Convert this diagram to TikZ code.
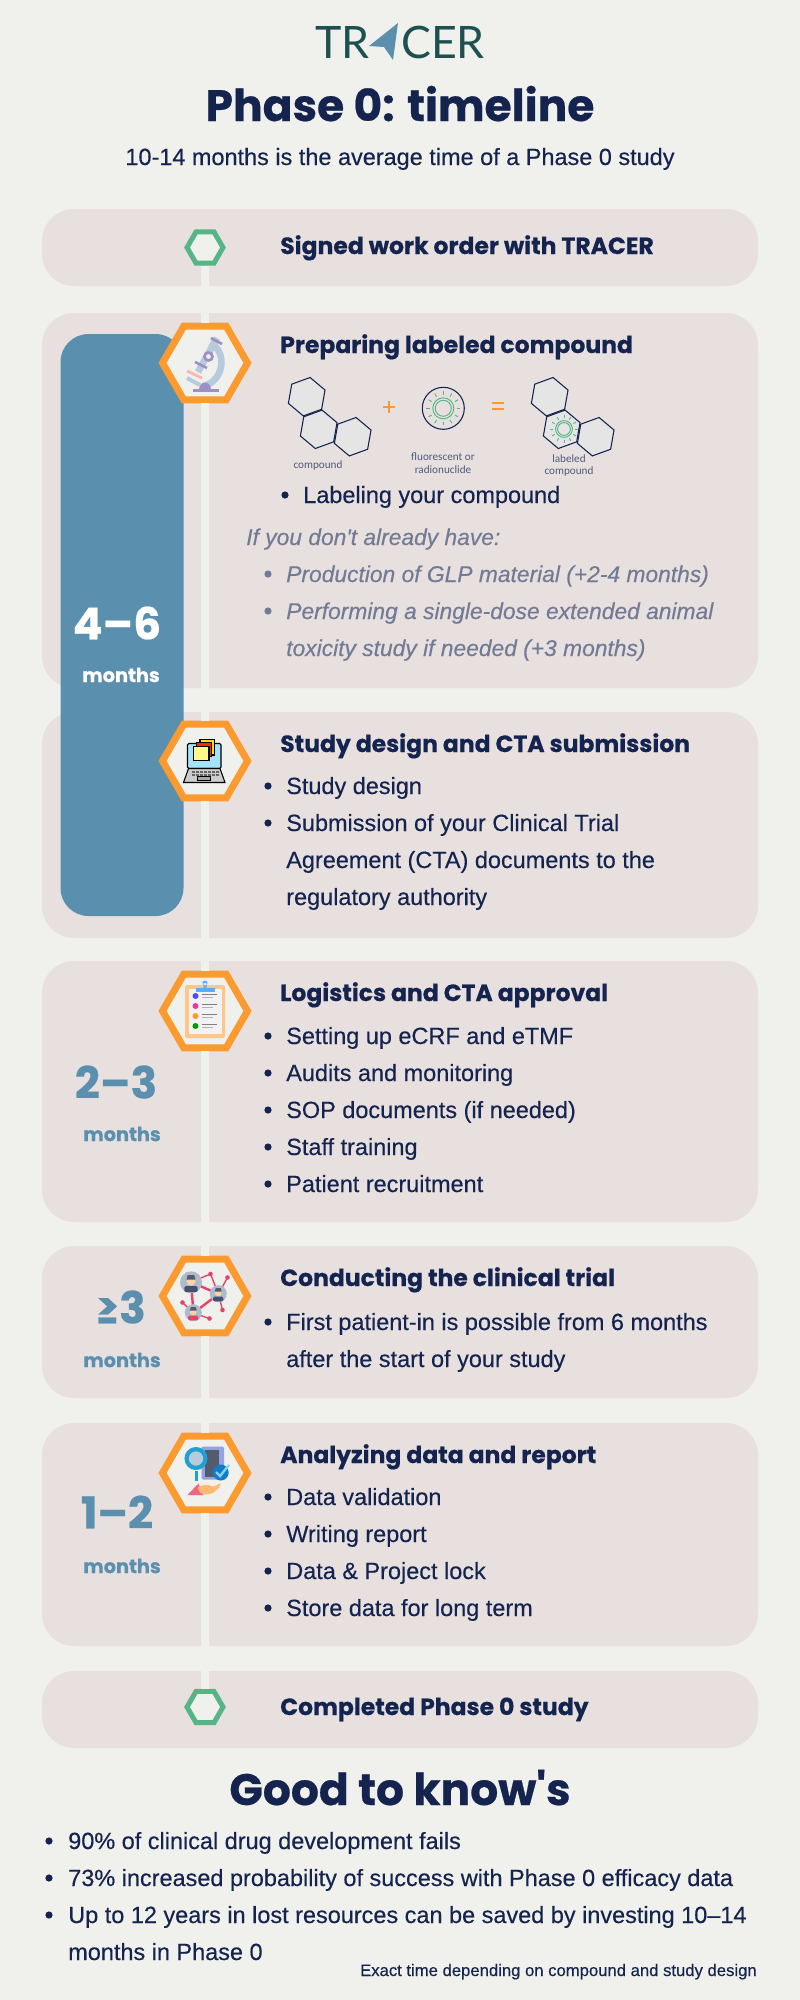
\documentclass[tikz,border=0pt]{standalone}
\usepackage{fontspec}
\setmainfont{Liberation Sans}[RawFeature={embolden=0.35}]
\newfontfamily\plainfont{Liberation Sans}[RawFeature={embolden=0.35}]
\newfontfamily\popfont{Poppins}[BoldFeatures={RawFeature={embolden=0.5}}]
\newfontfamily\logofont{Lato}
\newfontfamily\tinyfont{Carlito}
\usetikzlibrary{shapes.geometric,calc}
\definecolor{pagebg}{HTML}{F0F0EC}
\definecolor{panelbg}{HTML}{E8E0DF}
\definecolor{navy}{HTML}{14244F}
\definecolor{barblue}{HTML}{5A8FAE}
\definecolor{ringorange}{HTML}{FB9A2E}
\definecolor{ringgreen}{HTML}{55B584}
\definecolor{logoteal}{HTML}{1F5050}
\definecolor{softgray}{HTML}{727A94}
\definecolor{steel}{HTML}{B7CBDC}
\definecolor{lilac}{HTML}{9D90C6}
\definecolor{rosepink}{HTML}{E8406A}
\tikzstyle{panel} = [rectangle, minimum width=537pt, rounded corners=24pt, fill=panelbg, inner sep=0pt]
\tikzstyle{ring} = [regular polygon, regular polygon sides=6, minimum size=63.75pt, inner sep=0pt, draw=ringorange, fill=pagebg, line width=5.25pt]
\tikzstyle{smallring} = [regular polygon, regular polygon sides=6, minimum size=27pt, inner sep=0pt, draw=ringgreen, fill=pagebg, line width=3.75pt]
\tikzstyle{spine} = [draw=pagebg, line width=6pt]
\tikzstyle{heading} = [anchor=base west, inner sep=0pt, text=navy, font=\popfont\bfseries\fontsize{17.6}{20}\selectfont]
\tikzstyle{item} = [anchor=base west, inner sep=0pt, text=navy, font=\fontsize{17.6}{20}\selectfont]
\tikzstyle{greyitem} = [anchor=base west, inner sep=0pt, text=softgray, font=\plainfont\itshape\fontsize{17.1}{20}\selectfont]
\tikzstyle{dot} = [circle, minimum size=5.4pt, inner sep=0pt, fill=navy]
\tikzstyle{span} = [anchor=center, inner sep=0pt, text=barblue, font=\popfont\bfseries\fontsize{33}{36}\selectfont]
\tikzstyle{months} = [anchor=center, inner sep=0pt, text=barblue, font=\popfont\bfseries\fontsize{14.5}{16}\selectfont]
\tikzstyle{tiny} = [anchor=center, inner sep=0pt, text=navy!75, font=\tinyfont\fontsize{8.4}{9}\selectfont]
\tikzstyle{cell} = [regular polygon, regular polygon sides=6, minimum size=29.25pt, inner sep=0pt, rotate=20, draw=navy, fill=gray!20, line width=0.8pt]
\newcommand{\sunicon}[3]{%
  \draw[ringgreen, line width=0.7pt] (#1,#2) circle (8*#3) (#1,#2) circle (10.5*#3);
  \foreach \ang in {0,30,...,330}
    \draw[ringgreen, line width=0.7pt] ($(#1,#2)+(\ang:13.5*#3)$) -- ($(#1,#2)+(\ang:17*#3)$);
}
\begin{document}
\begin{tikzpicture}[x=0.75pt,y=-0.75pt]

    % Page
    \path[use as bounding box, fill=pagebg] (0,0) rectangle (800,2000);

    % Panels
    \node (signedpanel) [panel, minimum height=57.75pt] at (400,247.5) {};
    \node (labelpanel) [panel, minimum height=281.25pt] at (400,500.5) {};
    \node (designpanel) [panel, minimum height=169.5pt] at (400,825) {};
    \node (logisticspanel) [panel, minimum height=195.75pt] at (400,1091.5) {};
    \node (trialpanel) [panel, minimum height=114pt] at (400,1322) {};
    \node (analysispanel) [panel, minimum height=167.25pt] at (400,1534.5) {};
    \node (completedpanel) [panel, minimum height=57.75pt] at (400,1709.5) {};

    % Duration bar
    \node (bar) [rectangle, minimum width=92.25pt, minimum height=436.5pt, rounded corners=21pt, fill=barblue] at (122,625) {};

    % Logo and title
    \node (logoleft) [anchor=base east, inner sep=0pt, text=logoteal, font=\logofont\fontsize{33.5}{34}\selectfont] at (370,58) {TR};
    \node (logoright) [anchor=base west, inner sep=0pt, text=logoteal, font=\logofont\fontsize{33.5}{34}\selectfont] at (401,58) {CER};
    \fill[barblue] (398,23) -- (369,46) -- (384,47) -- (393,60) -- cycle;
    \node (title) [anchor=base, inner sep=0pt, text=navy, font=\popfont\bfseries\fontsize{33}{36}\selectfont] at (400,121) {Phase 0: timeline};
    \node (subtitle) [anchor=base, inner sep=0pt, text=navy, font=\fontsize{17.6}{20}\selectfont] at (400,165) {10-14 months is the average time of a Phase 0 study};

    % Hexagons
    \node (start) [smallring] at (205,247.5) {};
    \node (labeling) [ring] at (205,363) {};
    \node (design) [ring] at (205,761) {};
    \node (logistics) [ring] at (205,1011) {};
    \node (trial) [ring] at (205,1296) {};
    \node (analysis) [ring] at (205,1473) {};
    \node (finish) [smallring] at (205,1707) {};

    % Spine
    \draw [spine] (start.south) -- (labeling.north);
    \draw [spine] (labeling.south) -- (design.north);
    \draw [spine] (design.south) -- (logistics.north);
    \draw [spine] (logistics.south) -- (trial.north);
    \draw [spine] (trial.south) -- (analysis.north);
    \draw [spine] (analysis.south) -- (finish.north);

    % Headings
    \node (h1) [heading] at (280,254) {Signed work order with TRACER};
    \node (h2) [heading] at (280,353) {Preparing labeled compound};
    \node (h3) [heading] at (280,752) {Study design and CTA submission};
    \node (h4) [heading] at (280,1001) {Logistics and CTA approval};
    \node (h5) [heading] at (280,1286) {Conducting the clinical trial};
    \node (h6) [heading] at (280,1463) {Analyzing data and report};
    \node (h7) [heading] at (280,1715) {Completed Phase 0 study};

    % Microscope
    \draw[steel, line width=5pt] (210,343) .. controls (226,350) and (226,378) .. (205,386);
    \draw[steel, line width=5pt] (217,338) -- (198,372);
    \draw[lilac, line width=2pt] (211,338) -- (222,344);
    \draw[lilac, line width=2pt] (195,362) -- (207,368);
    \draw[lilac, fill=pagebg, line width=2pt] (208.5,356.5) circle (4);
    \draw[red!30, line width=2pt] (187,371) -- (202,378);
    \draw[steel, line width=3pt] (187,378) -- (200,385);
    \fill[lilac] (199,390) .. controls (199,380) and (211,380) .. (211,390) -- cycle;
    \draw[lilac, line width=2pt] (193,390.5) -- (219,390.5);

    % Compound equation
    \foreach \ox in {0,243} {
        \node (cella\ox) [cell] at (306.7+\ox,396.7) {};
        \node (cellb\ox) [cell] at (318.7+\ox,429.3) {};
        \node (cellc\ox) [cell] at (352.7+\ox,436.7) {};
    }
    \node (plussign) [anchor=center, text=ringorange, font=\fontsize{18}{20}\selectfont] at (389,408) {+};
    \node (equalsign) [anchor=center, text=ringorange, font=\fontsize{18}{20}\selectfont] at (498,408) {=};
    \node (tracer) [circle, minimum size=31.5pt, inner sep=0pt, draw=navy, line width=0.8pt] at (443.3,408.3) {};
    \sunicon{443.3}{408.3}{1}
    \sunicon{564}{429}{0.8}
    \node (lab1) [tiny] at (318,466) {compound};
    \node (lab2) [tiny] at (443,457) {fluorescent or};
    \node (lab3) [tiny] at (443,470) {radionuclide};
    \node (lab4) [tiny] at (569,459) {labeled};
    \node (lab5) [tiny] at (569,472) {compound};

    % Labeling list
    \node (it1) [item] at (303,503) {Labeling your compound};
    \node (dt1) [dot] at (285,495) {};
    \node (if) [greyitem] at (246,545) {If you don't already have:};
    \foreach \yy/\txt in {582/Production of GLP material (+2-4 months),619/Performing a single-dose extended animal,656/toxicity study if needed (+3 months)}
        \node (grey\yy) [greyitem] at (286,\yy) {\txt};
    \node (dt2) [dot, fill=softgray] at (268,574) {};
    \node (dt3) [dot, fill=softgray] at (268,611) {};

    % Laptop
    \draw[black, fill=cyan!35!white, line width=0.8pt, rounded corners=1pt] (187.5,743.5) rectangle (221,768.5);
    \draw[black, fill=yellow!85!orange, line width=0.8pt] (200,739.5) rectangle (214.5,755);
    \draw[black, fill=red!70!orange, line width=0.8pt] (196.5,742.5) rectangle (211.5,756.5);
    \draw[black, fill=yellow!45, line width=0.8pt] (193.5,746.5) rectangle (209,760.5);
    \draw[black, fill=gray!40, line width=0.8pt] (188.5,768.5) -- (220,768.5) -- (225,782.5) -- (183.5,782.5) -- cycle;
    \foreach \kx in {192,196,...,216} {
        \fill[gray!80!black] (\kx,770.5) rectangle (\kx+2.5,772.5);
        \fill[gray!80!black] (\kx,774) rectangle (\kx+2.5,775.5);
    }
    \draw[black, fill=gray!70, line width=0.6pt] (197.5,776.5) rectangle (210.5,780.5);

    % Study design list
    \foreach \yy/\txt in {794/Study design,831/Submission of your Clinical Trial,868/Agreement (CTA) documents to the,905/regulatory authority}
        \node (design\yy) [item] at (286,\yy) {\txt};
    \node (dt4) [dot] at (268,786) {};
    \node (dt5) [dot] at (268,823) {};

    % Clipboard
    \fill[orange!45, rounded corners=1.5pt] (185,985) rectangle (225,1038);
    \fill[white!90!gray] (188.5,988.5) rectangle (221.5,1034);
    \fill[blue!50!cyan!65] (195.5,987.5) rectangle (214.5,992);
    \fill[blue!50!cyan!65] (205,983) circle (2.5) (203.5,983) rectangle (206.5,988);
    \foreach \yy/\cc in {996/blue!70,1006/magenta!80,1016/orange!80,1026/green!60!black} {
        \fill[\cc] (195.5,\yy) circle (3);
        \draw[gray, line width=0.8pt] (201.5,\yy-1.5) -- (217,\yy-1.5);
        \draw[gray!60, line width=0.6pt] (201.5,\yy+1.5) -- (213,\yy+1.5);
    }

    % Logistics list
    \foreach \yy/\txt in {1044/Setting up eCRF and eTMF,1081/Audits and monitoring,1118/SOP documents (if needed),1155/Staff training,1192/Patient recruitment} {
        \node (logi\yy) [item] at (286,\yy) {\txt};
        \node (logidot\yy) [dot] at (268,\yy-8) {};
    }

    % Network
    \draw[rosepink, line width=1.8pt] (191,1282) -- (218.5,1294) (191,1282) -- (193.5,1313) (193.5,1313) -- (218.5,1294);
    \draw[rosepink, line width=1pt] (191,1282) -- (210.5,1274) -- (218.5,1294) -- (227.5,1277.5) (218.5,1294) -- (222.5,1310) (193.5,1313) -- (209.5,1318.5) (193.5,1313) -- (182.5,1302.5);
    \foreach \nx/\ny in {210.5/1274,227.5/1277.5,222.5/1310,209.5/1318.5,182.5/1302.5}
        \fill[rosepink] (\nx,\ny) circle (2.3);
    \foreach \nx/\ny/\nr/\cc in {191/1282.3/11/navy!80,218.3/1293.7/8.5/navy!80,193.3/1312.7/8.5/rosepink} {
        \fill[steel!80!gray] (\nx,\ny) circle (\nr);
        \fill[\cc, rounded corners=1pt] (\nx-\nr*0.6,\ny+\nr*0.9) -- (\nx-\nr*0.6,\ny+\nr*0.35) -- (\nx+\nr*0.6,\ny+\nr*0.35) -- (\nx+\nr*0.6,\ny+\nr*0.9) -- cycle;
        \fill[orange!35!white] (\nx,\ny-\nr*0.1) circle (\nr*0.4);
        \fill[gray!60!navy] (\nx-\nr*0.4,\ny-\nr*0.25) -- (\nx-\nr*0.3,\ny-\nr*0.65) -- (\nx+\nr*0.3,\ny-\nr*0.65) -- (\nx+\nr*0.4,\ny-\nr*0.25) -- cycle;
    }

    % Trial list
    \foreach \yy/\txt in {1330/First patient-in is possible from 6 months,1367/after the start of your study}
        \node (trial\yy) [item] at (286,\yy) {\txt};
    \node (dt6) [dot] at (268,1322) {};

    % Data icon
    \fill[steel!80!blue, rounded corners=1pt] (201.5,1446.5) rectangle (224,1479.5);
    \fill[gray!60!navy] (205,1450) rectangle (218.5,1476.5);
    \draw[cyan!70!teal, line width=0.9pt, fill=steel] (196,1458.5) circle (8);
    \draw[cyan!70!teal, line width=3pt] (196,1458.5) circle (9.5);
    \draw[cyan!70!teal, line width=2.2pt] (196.5,1471) -- (196.5,1480.5);
    \fill[cyan!60!blue] (220.7,1472.5) circle (8);
    \draw[cyan!50!white, line width=1.8pt] (216,1472) -- (220,1476) -- (229,1465);
    \fill[rosepink!80] (187.5,1495) -- (198.5,1483.5) -- (203.5,1495) -- cycle;
    \fill[orange!55!white, rounded corners=1.5pt] (197,1487) -- (207,1484.5) -- (214,1487) -- (220,1483) -- (221,1486) -- (212,1494) -- (201,1494) -- cycle;

    % Analysis list
    \foreach \yy/\txt in {1505/Data validation,1542/Writing report,1579/Data \& Project lock,1616/Store data for long term} {
        \node (data\yy) [item] at (286,\yy) {\txt};
        \node (datadot\yy) [dot] at (268,\yy-8) {};
    }

    % Durations
    \node (span1) [span, text=white] at (117,623) {4–6};
    \node (mon1) [months, text=white] at (121,675) {months};
    \node (span2) [span] at (116,1082) {2–3};
    \node (mon2) [months] at (122,1134) {months};
    \node (span3) [span] at (121,1307) {≥3};
    \node (mon3) [months] at (122,1360) {months};
    \node (span4) [span] at (117,1512) {1–2};
    \node (mon4) [months] at (122,1566) {months};

    % Good to know
    \node (good) [anchor=base, inner sep=0pt, text=navy, font=\popfont\bfseries\fontsize{33}{36}\selectfont] at (400,1805) {Good to know's};
    \foreach \yy/\txt in {1849/90\% of clinical drug development fails,1886/73\% increased probability of success with Phase 0 efficacy data,1923/Up to 12 years in lost resources can be saved by investing 10–14} {
        \node (know\yy) [item] at (68,\yy) {\txt};
        \node (knowdot\yy) [dot] at (49,\yy-8) {};
    }
    \node (know4) [item] at (68,1960) {months in Phase 0};
    \node (footnote) [anchor=base east, inner sep=0pt, text=navy, font=\fontsize{12.5}{14}\selectfont] at (757,1976) {Exact time depending on compound and study design};

\end{tikzpicture}
\end{document}
